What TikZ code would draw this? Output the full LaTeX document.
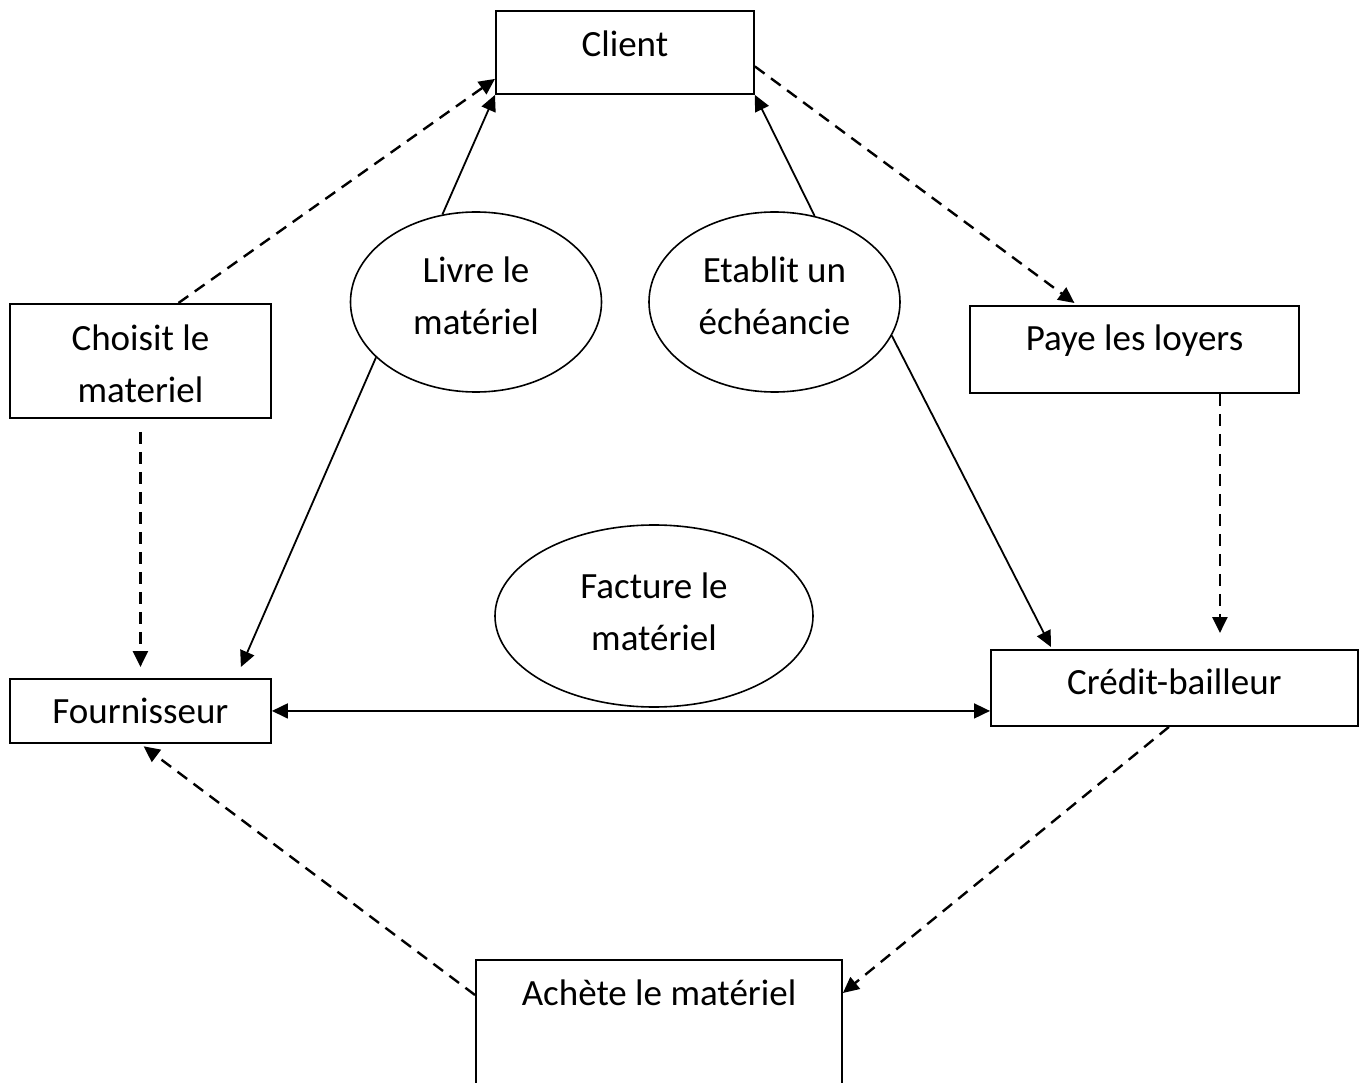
\documentclass[tikz,border=0pt]{standalone}
\usepackage{fontspec}
\setmainfont{Carlito}
\usetikzlibrary{shapes.geometric,arrows.meta,calc}
\newcommand\twolines[2]{\raisebox{#1}[\height][\depth]{\begin{tabular}{@{}c@{}}#2\end{tabular}}}
\begin{document}
\begin{tikzpicture}[x=1pt,y=-1pt,
  txt/.style={font=\fontsize{37pt}{52pt}\selectfont, text=black},
  boxnode/.style={txt, draw, rectangle, line width=1.9pt, inner sep=0pt, anchor=north west},
  ellnode/.style={txt, draw, ellipse, line width=1.6pt, inner sep=0pt},
  tip/.style={-{Triangle[length=16pt,width=15pt]}},
  solidarrow/.style={tip, line width=1.8pt},
  dasharrow/.style={tip, line width=2.4pt, dash pattern=on 12pt off 8pt}]
\useasboundingbox (0,0) rectangle (1361,1083);
\clip (0,0) rectangle (1361,1083);
\fill[white] (0,0) rectangle (1361,1083);

% boxes
\node[boxnode, minimum width=258pt, text height=46pt, text depth=37pt] (client) at (495,10) {Client};
\node[boxnode, minimum width=261pt, minimum height=114pt] (choisit) at (9,303) {\twolines{-5pt}{Choisit le\\materiel}};
\node[boxnode, minimum width=329pt, text height=45pt, text depth=42pt] (paye) at (969,305) {Paye les loyers};
\node[boxnode, minimum width=261pt, text height=45pt, text depth=19pt] (fournisseur) at (9,678) {Fournisseur};
\node[boxnode, minimum width=367pt, text height=45pt, text depth=31pt] (credit) at (990,649) {Crédit-bailleur};
\node[boxnode, minimum width=366pt, text height=46pt, text depth=141pt] (achete) at (475,959) {Achète le matériel};

% ellipses
\node[ellnode, minimum width=251pt, minimum height=180pt] (livre) at (476,302) {\twolines{3.5pt}{Livre le\\matériel}};
\node[ellnode, minimum width=251pt, minimum height=180pt] (etablit) at (774.5,302) {\twolines{3.5pt}{Etablit un\\échéancie}};
\node[ellnode, minimum width=318pt, minimum height=182pt] (facture) at (654,616) {\twolines{2pt}{Facture le\\matériel}};

% solid connectors
\draw[solidarrow] (livre.111) -- (client.south west);
\draw[solidarrow] (etablit.65) -- (client.south east);
\draw[solidarrow] (livre.209) -- ([xshift=-31pt,yshift=11pt]fournisseur.north east);
\draw[solidarrow] (etablit.344) -- ([xshift=61pt,yshift=2pt]credit.north west);
\draw[line width=1.8pt, {Triangle[length=16pt,width=15pt]}-{Triangle[length=16pt,width=15pt]}]
  (fournisseur.east) -- (fournisseur.east -| credit.west);

% dashed connectors
\draw[dasharrow] ([xshift=38pt]choisit.north) -- ([yshift=16pt]client.south west);
\draw[dasharrow] ([yshift=-14pt]client.east) -- ([xshift=-60pt,yshift=2pt]paye.north);
\draw[dasharrow, shorten <=13pt, shorten >=11pt] (choisit.south) -- (fournisseur.north);
\draw[dasharrow] ([xshift=85.5pt]paye.south) coordinate (ps) -- ([yshift=16pt]ps |- credit.north);
\draw[dasharrow] ([xshift=-5.5pt]credit.south) -- ([yshift=-34pt]achete.north east);
\draw[dasharrow, shorten >=4pt] ([yshift=-36pt]achete.north west) -- (fournisseur.south);
\end{tikzpicture}
\end{document}
